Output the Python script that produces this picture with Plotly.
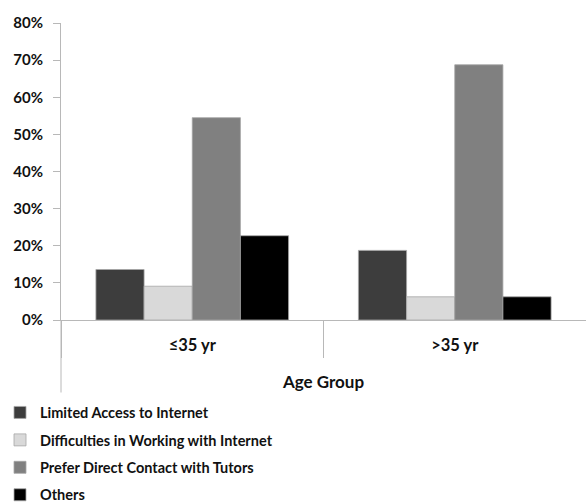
import plotly.graph_objects as go

categories = ["≤35 yr", ">35 yr"]
series_names = [
    "Limited Access to Internet",
    "Difficulties in Working with Internet",
    "Prefer Direct Contact with Tutors",
    "Others",
]
limited_access = [0.136, 0.1875]
difficulties = [0.091, 0.0625]
prefer_direct = [0.545, 0.6875]
others = [0.227, 0.0625]
y_ticks = [0, 0.1, 0.2, 0.3, 0.4, 0.5, 0.6, 0.7, 0.8]

colors = ["#3d3d3d", "#d9d9d9", "#808080", "#000000"]
values = [limited_access, difficulties, prefer_direct, others]

W, H = 586, 502
L, R, T, B = 61, 0, 23, 182
plot_h = H - T - B
axis_grey = "#b8b8b8"
font_family = "Lato, 'Open Sans', sans-serif"

fig = go.Figure()
for i, (name, vals, col) in enumerate(zip(series_names, values, colors)):
    fig.add_trace(go.Bar(
        x=categories, y=vals, name=name,
        marker=dict(color=col, line=dict(color="#a6a6a6", width=0.8)),
        legendgroup=f"g{i}",
    ))

fig.update_layout(
    width=W, height=H,
    margin=dict(l=L, r=R, t=T, b=B, pad=0, autoexpand=False),
    paper_bgcolor="white", plot_bgcolor="white",
    font=dict(family=font_family, size=15, color="#111111", weight="bold"),
    barmode="group", bargap=0.266, bargroupgap=0,
    showlegend=True,
    legend=dict(
        x=-(L) / (W - L - R), xanchor="left",
        y=-(396.5 - (H - B)) / plot_h, yanchor="top",
        orientation="v",
        traceorder="grouped",
        tracegroupgap=5.6,
        font=dict(size=14.5, family=font_family, weight="bold"),
        itemwidth=30,
        bgcolor="rgba(0,0,0,0)",
    ),
    xaxis=dict(
        showline=True, linecolor=axis_grey, linewidth=1,
        ticks="outside", tickson="boundaries", ticklen=37,
        tickcolor=axis_grey, tickwidth=1,
        ticklabelstandoff=10,
        showgrid=False, zeroline=False,
        tickfont=dict(size=16.5),
        title=dict(text="Age Group", font=dict(size=17), standoff=22),
    ),
    yaxis=dict(
        range=[0, 0.8], tickvals=y_ticks, tickformat=".0%",
        showline=True, linecolor=axis_grey, linewidth=1,
        ticks="outside", ticklen=7, tickcolor=axis_grey, tickwidth=1,
        showgrid=False, zeroline=False,
        tickfont=dict(size=15),
        ticklabelstandoff=7,
    ),
)

# extend the y-axis line below the plot, as in the original chart frame
fig.add_shape(
    type="line", xref="paper", yref="paper",
    x0=0, x1=0, y0=-(392.5 - (H - B)) / plot_h, y1=0,
    line=dict(color=axis_grey, width=1),
)

fig.write_html("out.html")
